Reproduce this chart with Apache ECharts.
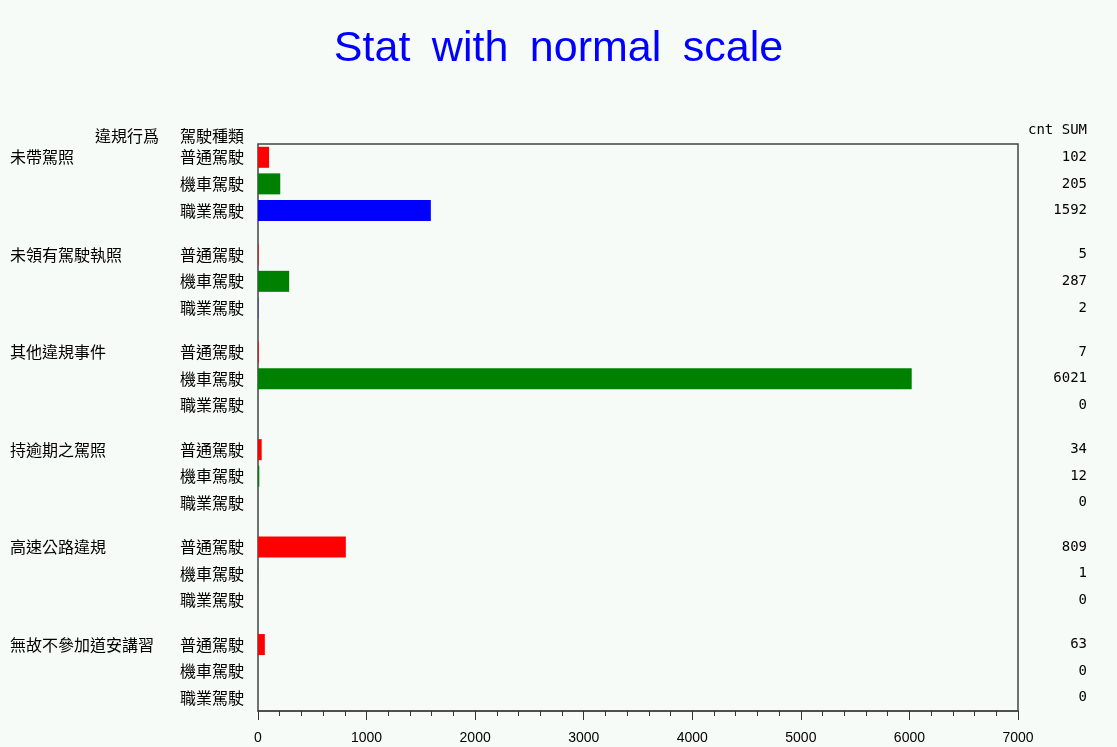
<!DOCTYPE html>
<html>
<head>
<meta charset="utf-8">
<title>Stat with normal scale</title>
<script src="https://cdn.jsdelivr.net/npm/echarts@6/dist/echarts.min.js"></script>
<style>
  html, body { margin: 0; padding: 0; background: #f6fbf8; }
  #main { width: 1117px; height: 747px; }
</style>
</head>
<body>
<div id="main"></div>
<script>
'use strict';

// 違規行爲
const groups = ['未帶駕照', '未領有駕駛執照', '其他違規事件', '持逾期之駕照', '高速公路違規', '無故不參加道安講習'];
// 駕駛種類
const types = ['普通駕駛', '機車駕駛', '職業駕駛'];
const typeColors = ['#ff0000', '#008000', '#0000ff'];
// cnt SUM, 每組依 types 順序
const cnt = [
    [102, 205, 1592],
    [5, 287, 2],
    [7, 6021, 0],
    [34, 12, 0],
    [809, 1, 0],
    [63, 0, 0]
];
const xTicks = [0, 1000, 2000, 3000, 4000, 5000, 6000, 7000];

// 每列佔3格, 組與組之間空2格
let cats = [];
let leftLabels = [];
let rightLabels = [];
let barData = [];
function pad() {
    cats.push('p' + cats.length);
    leftLabels.push('');
    rightLabels.push('');
    barData.push('-');
}
groups.forEach((g, gi) => {
    if (gi > 0) { pad(); pad(); }
    types.forEach((t, ti) => {
        pad();
        cats.push('r' + cats.length);
        leftLabels.push('{g|' + (ti === 0 ? g : '') + '}{t|' + t + '}');
        rightLabels.push('{v|' + cnt[gi][ti] + '}');
        barData.push({ value: cnt[gi][ti], itemStyle: { color: typeColors[ti] } });
        pad();
    });
});

const chart = echarts.init(document.getElementById('main'));
const cjk = '"Noto Sans CJK TC", "Noto Sans CJK SC", sans-serif';

let option = {
    backgroundColor: '#f6fbf8',
    animation: false,
    title: {
        // 原圖字距較寬, 用 en space 分隔
        text: 'Stat\u2002with\u2002normal\u2002scale',
        left: 'center',
        top: 23,
        textStyle: {
            color: '#0000ff',
            fontFamily: 'Liberation Sans, Arial, sans-serif',
            fontWeight: 'normal',
            fontSize: 43
        }
    },
    grid: {
        left: 258,
        right: 99,
        top: 144,
        bottom: 36,
        show: true,
        borderColor: '#444',
        borderWidth: 1.5,
        backgroundColor: 'transparent'
    },
    xAxis: {
        type: 'value',
        min: xTicks[0],
        max: xTicks[xTicks.length - 1],
        interval: 1000,
        axisLine: { show: true, lineStyle: { color: '#444', width: 1.5 } },
        axisTick: { show: true, length: 9, lineStyle: { color: '#333' } },
        minorTick: { show: true, splitNumber: 5, length: 5, lineStyle: { color: '#333' } },
        splitLine: { show: false },
        axisLabel: {
            margin: 20,
            color: '#000',
            fontFamily: 'Liberation Sans, sans-serif',
            fontSize: 14,
            formatter: v => String(v)
        }
    },
    yAxis: [
        {
            type: 'category',
            data: cats,
            inverse: true,
            axisLine: { show: false },
            axisTick: { show: false },
            axisLabel: {
                interval: 0,
                margin: 12,
                formatter: (v, i) => leftLabels[i],
                rich: {
                    g: { width: 170, align: 'left', fontSize: 16, fontFamily: cjk, color: '#000' },
                    t: { width: 66, align: 'left', fontSize: 16, fontFamily: cjk, color: '#000' }
                }
            }
        },
        {
            type: 'category',
            data: cats,
            inverse: true,
            position: 'right',
            axisLine: { show: false },
            axisTick: { show: false },
            axisLabel: {
                interval: 0,
                margin: 4,
                formatter: (v, i) => rightLabels[i],
                rich: {
                    v: { width: 65, align: 'right', fontSize: 14, fontFamily: 'DejaVu Sans Mono, monospace', color: '#000' }
                }
            }
        }
    ],
    graphic: [
        {
            type: 'text',
            left: 95,
            top: 128,
            style: { text: '違規行爲', font: '16px ' + cjk, fill: '#000' }
        },
        {
            type: 'text',
            left: 180,
            top: 128,
            style: { text: '駕駛種類', font: '16px ' + cjk, fill: '#000' }
        },
        {
            type: 'text',
            right: 30,
            top: 123,
            style: { text: 'cnt SUM', font: '14px "DejaVu Sans Mono", monospace', fill: '#000' }
        }
    ],
    series: [
        {
            name: 'cnt',
            type: 'bar',
            yAxisIndex: 0,
            barWidth: 21,
            data: barData
        }
    ]
};

chart.setOption(option);
</script>
</body>
</html>
